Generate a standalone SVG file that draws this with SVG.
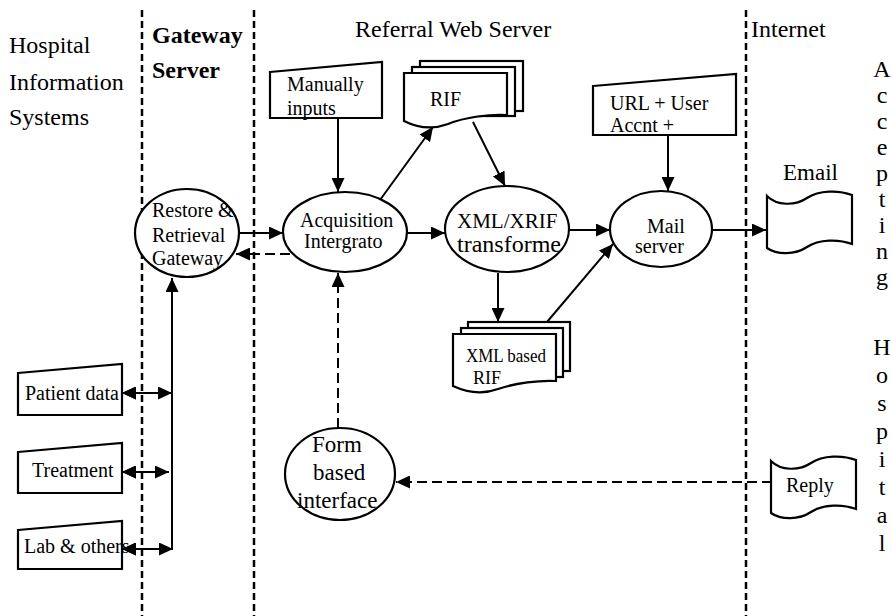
<svg xmlns="http://www.w3.org/2000/svg" width="892" height="616" viewBox="0 0 892 616">
<defs>
<marker id="ah" markerUnits="userSpaceOnUse" markerWidth="15" markerHeight="13" refX="14" refY="6.5" orient="auto-start-reverse"><path d="M0,0 L14,6.5 L0,13 Z" fill="#000"/></marker>
<path id="tape" d="M0,3 C10,13 28,13 40,5 C52,-3 72,-3 85,2 L85,51 C72,46 52,46 40,54 C28,62 10,62 0,55 Z"/>
</defs>
<style>
.t{font-family:"Liberation Serif","Times New Roman",serif;fill:#000}
.b{font-weight:bold}
.n{fill:#fff;stroke:#000;stroke-width:2.2}
.c{stroke:#000;stroke-width:2;fill:none}
.c path,.c line{marker-end:url(#ah)}
.d{stroke-dasharray:10 5}
.div{stroke:#000;stroke-width:2.5;stroke-dasharray:7 4}
</style>
<rect width="892" height="616" fill="#fff"/>

<g id="dividers">
<line class="div" x1="142" y1="10" x2="142" y2="616"/>
<line class="div" x1="254" y1="10" x2="254" y2="616"/>
<line class="div" x1="746" y1="10" x2="746" y2="616"/>
</g>

<g id="labels" class="t" font-size="24">
<text x="9" y="53">Hospital</text>
<text x="9" y="90">Information</text>
<text x="9" y="125">Systems</text>
<text class="b" x="152" y="43">Gateway</text>
<text class="b" x="152" y="78">Server</text>
<text x="355" y="37">Referral Web Server</text>
<text x="751" y="37">Internet</text>
<text x="783" y="180" font-size="23">Email</text>
<g text-anchor="middle">
<text x="882" y="77">A</text><text x="882" y="103">c</text><text x="882" y="129">c</text><text x="882" y="155">e</text><text x="882" y="181">p</text><text x="882" y="207">t</text><text x="882" y="233">i</text><text x="882" y="259">n</text><text x="882" y="285">g</text>
<text x="882" y="355">H</text><text x="882" y="383">o</text><text x="882" y="411">s</text><text x="882" y="439">p</text><text x="882" y="467">i</text><text x="882" y="495">t</text><text x="882" y="523">a</text><text x="882" y="551">l</text>
</g>
</g>

<g id="connectors" class="c">
<line x1="240" y1="233" x2="283" y2="233"/>
<line class="d" x1="290" y1="254" x2="236" y2="254"/>
<line x1="338" y1="118" x2="338" y2="192"/>
<line x1="380" y1="200" x2="433" y2="127"/>
<line x1="473" y1="122" x2="505" y2="186"/>
<line x1="407" y1="233" x2="445" y2="233"/>
<line x1="569" y1="230" x2="610" y2="230"/>
<line x1="498" y1="273" x2="498" y2="322"/>
<line x1="547" y1="322" x2="613" y2="244"/>
<line x1="668" y1="135" x2="668" y2="191"/>
<line x1="712" y1="230" x2="766" y2="230"/>
<line class="d" x1="338" y1="428" x2="338" y2="273"/>
<line class="d" x1="772" y1="482" x2="396" y2="482"/>
<line x1="172" y1="549" x2="172" y2="278"/>
<line x1="122" y1="393" x2="172" y2="393" marker-start="url(#ah)"/>
<line x1="122" y1="472" x2="169" y2="472" marker-start="url(#ah)"/>
<line x1="122" y1="549" x2="173" y2="549" marker-start="url(#ah)"/>
</g>

<g id="restore">
<ellipse class="n" cx="187" cy="233" rx="52" ry="44"/>
<g class="t" font-size="20"><text x="152" y="217">Restore &amp;</text><text x="152" y="242">Retrieval</text><text x="152" y="265">Gateway</text></g>
</g>
<g id="acquisition">
<ellipse class="n" cx="345" cy="232" rx="62" ry="40"/>
<g class="t" font-size="20"><text x="300" y="227">Acquisition</text><text x="304" y="248">Intergrato</text></g>
</g>
<g id="xml-transformer">
<ellipse class="n" cx="507" cy="229" rx="62" ry="43"/>
<text class="t" x="457" y="228" font-size="21">XML/XRIF</text>
<text class="t" x="457" y="252" font-size="24">transforme</text>
</g>
<g id="mail-server">
<ellipse class="n" cx="661" cy="229" rx="51" ry="38"/>
<g class="t" font-size="20"><text x="647" y="233">Mail</text><text x="635" y="253">server</text></g>
</g>
<g id="form-interface">
<ellipse class="n" cx="340" cy="474" rx="55" ry="46"/>
<g class="t" font-size="23"><text x="312" y="452">Form</text><text x="313" y="480">based</text><text x="297" y="508">interface</text></g>
</g>

<g id="manual-inputs">
<polygon class="n" points="270,72 382,62 382,118 270,118"/>
<g class="t" font-size="20"><text x="287" y="91">Manually</text><text x="287" y="115">inputs</text></g>
</g>
<g id="url-input">
<polygon class="n" points="593,86 736,74 736,135 593,135"/>
<g class="t" font-size="20"><text x="610" y="110">URL + User</text><text x="610" y="132">Accnt +</text></g>
</g>

<g id="rif">
<rect class="n" x="420" y="61" width="103" height="50"/>
<rect class="n" x="412" y="67" width="103" height="49"/>
<path class="n" d="M404,73 L507,73 L507,115 C490,114 465,117 448,124 C432,130 416,127 404,121 Z"/>
<text class="t" x="430" y="106" font-size="20">RIF</text>
</g>
<g id="xml-rif">
<rect class="n" x="468" y="322" width="102" height="49"/>
<rect class="n" x="461" y="328" width="102" height="49"/>
<path class="n" d="M453,334 L556,334 L556,381 C540,380 515,383 498,389 C482,395 466,392 453,386 Z"/>
<text class="t" x="466" y="362" font-size="18" textLength="80" lengthAdjust="spacingAndGlyphs">XML based</text>
<text class="t" x="473" y="384" font-size="18">RIF</text>
</g>

<g id="email">
<use href="#tape" class="n" x="767" y="193"/>
</g>
<g id="reply">
<use href="#tape" class="n" x="771" y="458"/>
<text class="t" x="786" y="492" font-size="20">Reply</text>
</g>

<g id="patient-data">
<polygon class="n" points="18,373 122,364 122,415 18,415"/>
<text class="t" x="25" y="400" font-size="20">Patient data</text>
</g>
<g id="treatment">
<polygon class="n" points="18,452 122,443 122,493 18,493"/>
<text class="t" x="32" y="477" font-size="20">Treatment</text>
</g>
<g id="lab-others">
<polygon class="n" points="18,530 122,521 122,569 18,569"/>
<text class="t" x="24" y="553" font-size="20">Lab &amp; others</text>
</g>
<g id="overlay-arrows" class="c">
<line x1="128" y1="393" x2="122" y2="393"/>
<line x1="128" y1="472" x2="122" y2="472"/>
<line x1="128" y1="549" x2="122" y2="549"/>
</g>
</svg>
